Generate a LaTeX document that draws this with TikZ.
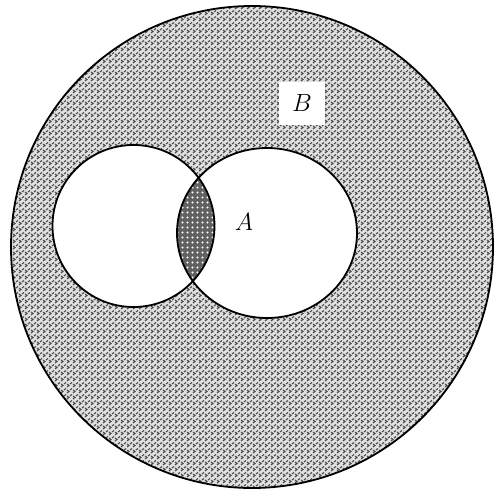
\documentclass[tikz,border=0pt]{standalone}
\usetikzlibrary{patterns}
\pgfdeclarepatternformonly{chev}{\pgfpoint{-0.5pt}{-0.5pt}}{\pgfpoint{6.5pt}{6.5pt}}{\pgfpoint{6pt}{6pt}}{%
  \pgfsetlinewidth{1.1pt}%
  \pgfpathmoveto{\pgfpoint{1pt}{1pt}}%
  \pgfpathlineto{\pgfpoint{3pt}{2.5pt}}%
  \pgfpathlineto{\pgfpoint{1pt}{4pt}}%
  \pgfusepath{stroke}%
  \pgfpathmoveto{\pgfpoint{4pt}{4pt}}%
  \pgfpathlineto{\pgfpoint{6pt}{5.5pt}}%
  \pgfusepath{stroke}%
}
\pgfdeclarepatternformonly{rings}{\pgfpoint{-0.5pt}{-0.5pt}}{\pgfpoint{5.5pt}{5.5pt}}{\pgfpoint{5pt}{5pt}}{%
  \pgfpathcircle{\pgfpoint{2.5pt}{2.5pt}}{1.2pt}%
  \pgfusepath{fill}%
}
\begin{document}
\begin{tikzpicture}[x=1pt,y=-1pt,
  outline/.style={draw=black,line width=1.8pt},
  shade1/.style={fill=black!12},
  tex1/.style={pattern=chev,pattern color=black!70},
  shade2/.style={fill=black!62},
  tex2/.style={pattern=rings,pattern color=white},
  lbl/.style={font=\fontsize{31}{33}\selectfont}]
\useasboundingbox (0,0) rectangle (499,490);
\fill[white] (0,0) rectangle (499,490);
% big circle
\fill[shade1] (252,247) circle [radius=241];
\fill[tex1] (252,247) circle [radius=241];
% small circles
\fill[white] (133.5,226) circle [radius=81];
\fill[white] (267,233) ellipse [x radius=90,y radius=85];
% lens
\begin{scope}
  \clip (133.5,226) circle [radius=81];
  \fill[shade2] (267,233) ellipse [x radius=90,y radius=85];
  \fill[tex2] (267,233) ellipse [x radius=90,y radius=85];
\end{scope}
% outlines
\draw[outline] (252,247) circle [radius=241];
\draw[outline] (133.5,226) circle [radius=81];
\draw[outline] (267,233) ellipse [x radius=90,y radius=85];
% labels
\node[lbl,fill=white,minimum width=46pt,minimum height=43pt,inner sep=0pt] (B) at (302,103) {$B$};
\node[lbl] (A) at (244,222) {$A$};
\end{tikzpicture}
\end{document}
